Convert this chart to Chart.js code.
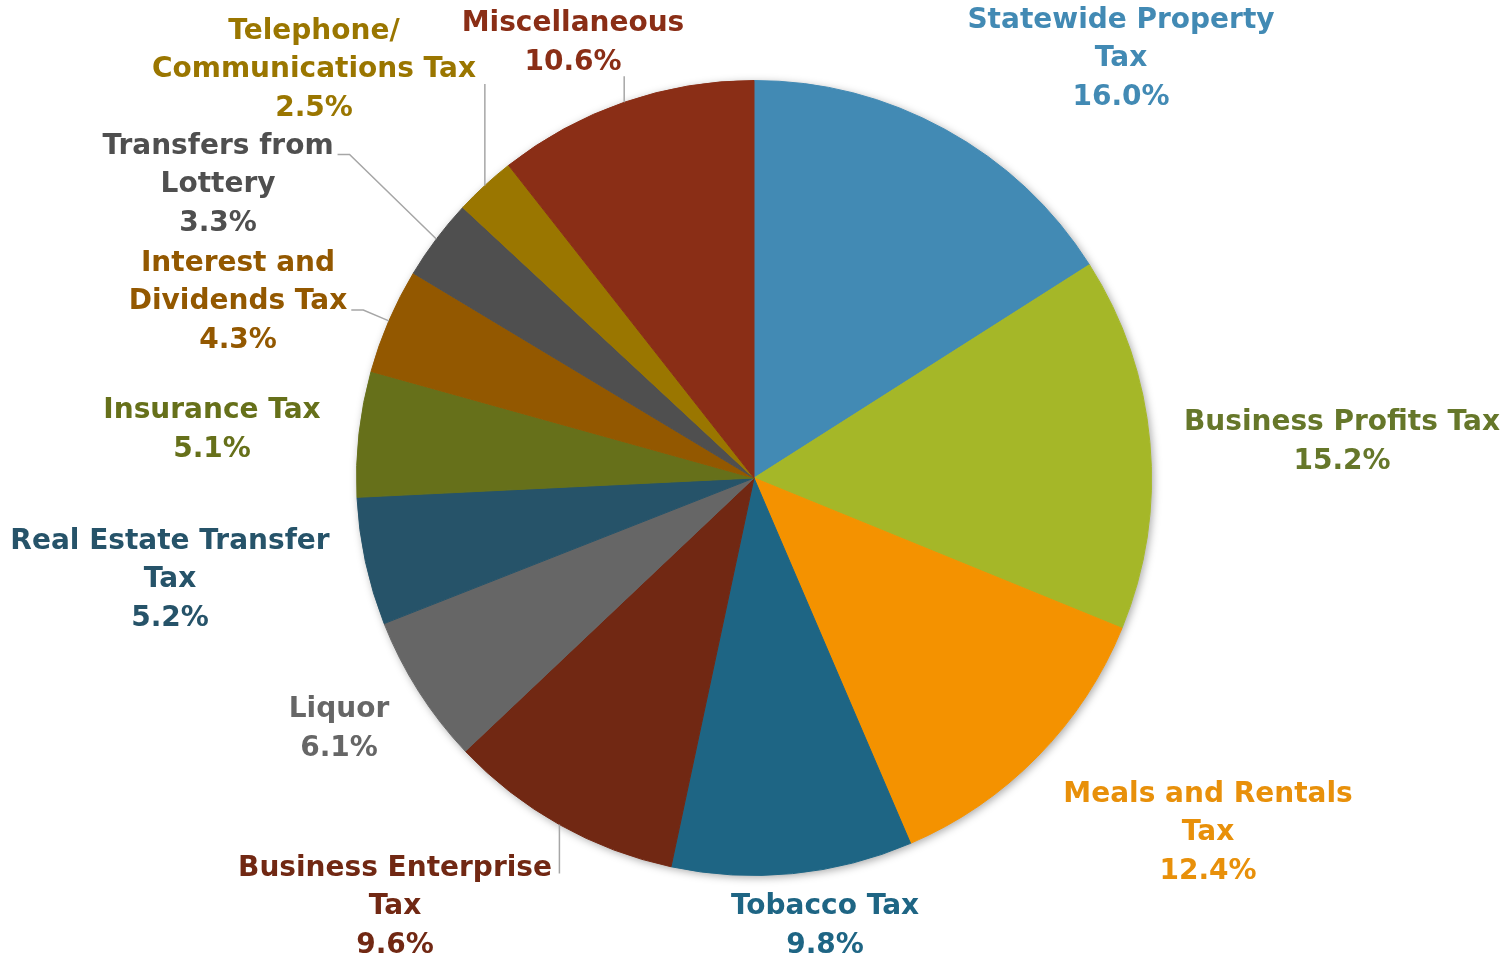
<!DOCTYPE html>
<html lang="en">
<head>
    <meta charset="UTF-8">
    <title>Revenue Sources</title>
    <script src="https://cdn.jsdelivr.net/npm/chart.js"></script>
    <style>
        html, body {
            margin: 0;
            padding: 0;
            background: #ffffff;
        }
        #wrap {
            width: 1508px;
            height: 958px;
        }
    </style>
</head>
<body>
    <div id="wrap">
        <canvas id="pieChart" width="1508" height="958"></canvas>
    </div>

    <script>
        // data
        const categories = [
            ["Statewide Property", "Tax"],
            ["Business Profits Tax"],
            ["Meals and Rentals", "Tax"],
            ["Tobacco Tax"],
            ["Business Enterprise", "Tax"],
            ["Liquor"],
            ["Real Estate Transfer", "Tax"],
            ["Insurance Tax"],
            ["Interest and", "Dividends Tax"],
            ["Transfers from", "Lottery"],
            ["Telephone/", "Communications Tax"],
            ["Miscellaneous"]
        ];
        const shares = [16.0, 15.2, 12.4, 9.8, 9.6, 6.1, 5.2, 5.1, 4.3, 3.3, 2.5, 10.6];

        const sliceColors = [
            "#428AB4", "#A5B728", "#F49200", "#1E6584", "#712813", "#666666",
            "#265369", "#66701A", "#935800", "#4F4F4F", "#9A7600", "#8A2E16"
        ];
        const textColors = [
            "#428AB4", "#66772A", "#E8900A", "#1E6584", "#712813", "#666666",
            "#265369", "#66701A", "#935800", "#4F4F4F", "#9A7600", "#8A2E16"
        ];

        // label block centre, relative to the pie centre, and leader style
        const labelOffsets = [
            [367, -419], [588, -36], [454, 355], [71, 448], [-359, 429], [-415, 251],
            [-584, 102], [-542, -48], [-516, -176], [-536, -293], [-440, -408], [-181, -435]
        ];
        const leaders = [null, null, null, null, "v", null, null, null, "h", "h", "v", "v"];

        const FONT = "bold 28px 'DejaVu Sans'";
        const LINE_H = 38.5;

        const pieShadow = {
            id: "pieShadow",
            beforeDatasetsDraw(chart) {
                const arc = chart.getDatasetMeta(0).data[0];
                const ctx = chart.ctx;
                ctx.save();
                ctx.shadowColor = "rgba(0, 0, 0, 0.35)";
                ctx.shadowBlur = 9;
                ctx.shadowOffsetX = 2;
                ctx.shadowOffsetY = 2;
                ctx.fillStyle = "#ffffff";
                ctx.beginPath();
                ctx.arc(arc.x, arc.y, arc.outerRadius, 0, Math.PI * 2);
                ctx.fill();
                ctx.restore();
            }
        };

        const outsideLabels = {
            id: "outsideLabels",
            afterDatasetsDraw(chart) {
                const ctx = chart.ctx;
                const meta = chart.getDatasetMeta(0);
                ctx.save();
                ctx.font = FONT;
                ctx.textAlign = "center";
                ctx.textBaseline = "middle";

                meta.data.forEach((arc, i) => {
                    const lines = categories[i].concat([shares[i].toFixed(1) + "%"]);
                    const cx = arc.x + labelOffsets[i][0];
                    const cy = arc.y + labelOffsets[i][1];
                    const top = cy - (lines.length - 1) * LINE_H / 2;

                    const boxes = lines.map((t, k) => {
                        const w = ctx.measureText(t).width;
                        return { text: t, y: top + k * LINE_H, left: cx - w / 2, right: cx + w / 2 };
                    });

                    // leader line from the middle of the slice edge
                    const mid = (arc.startAngle + arc.endAngle) / 2;
                    const px = arc.x + Math.cos(mid) * arc.outerRadius;
                    const py = arc.y + Math.sin(mid) * arc.outerRadius;
                    if (leaders[i]) {
                        ctx.strokeStyle = "#A6A6A6";
                        ctx.lineWidth = 1.5;
                        ctx.beginPath();
                        if (leaders[i] === "h") {
                            let best = boxes[0], bd = Infinity;
                            boxes.forEach(b => {
                                const d = Math.hypot(px - b.right, py - b.y);
                                if (d < bd) { bd = d; best = b; }
                            });
                            const ly = best.y + 8;
                            ctx.moveTo(best.right + 4, ly);
                            ctx.lineTo(best.right + 16, ly);
                            ctx.lineTo(px, py);
                        } else {
                            let best = null, bd = Infinity;
                            boxes.forEach(b => {
                                if (px >= b.left - 12 && px <= b.right + 12) {
                                    const d = Math.abs(py - b.y);
                                    if (d < bd) { bd = d; best = b; }
                                }
                            });
                            if (!best) {
                                best = boxes[boxes.length - 1];
                            }
                            const ly = best.y < py ? best.y + 14 : best.y + 5;
                            ctx.moveTo(px, py);
                            ctx.lineTo(px, ly);
                        }
                        ctx.stroke();
                    }

                    ctx.fillStyle = textColors[i];
                    boxes.forEach(b => ctx.fillText(b.text, cx, b.y));
                });
                ctx.restore();
            }
        };

        new Chart(document.getElementById("pieChart"), {
            type: "pie",
            data: {
                labels: categories.map(c => c.join(" ")),
                datasets: [{
                    data: shares,
                    backgroundColor: sliceColors,
                    borderColor: sliceColors,
                    borderWidth: 1
                }]
            },
            options: {
                responsive: false,
                animation: false,
                layout: {
                    padding: { top: 80, bottom: 82, left: 0, right: 0 }
                },
                plugins: {
                    legend: { display: false },
                    tooltip: { enabled: false }
                }
            },
            plugins: [pieShadow, outsideLabels]
        });
    </script>
</body>
</html>
